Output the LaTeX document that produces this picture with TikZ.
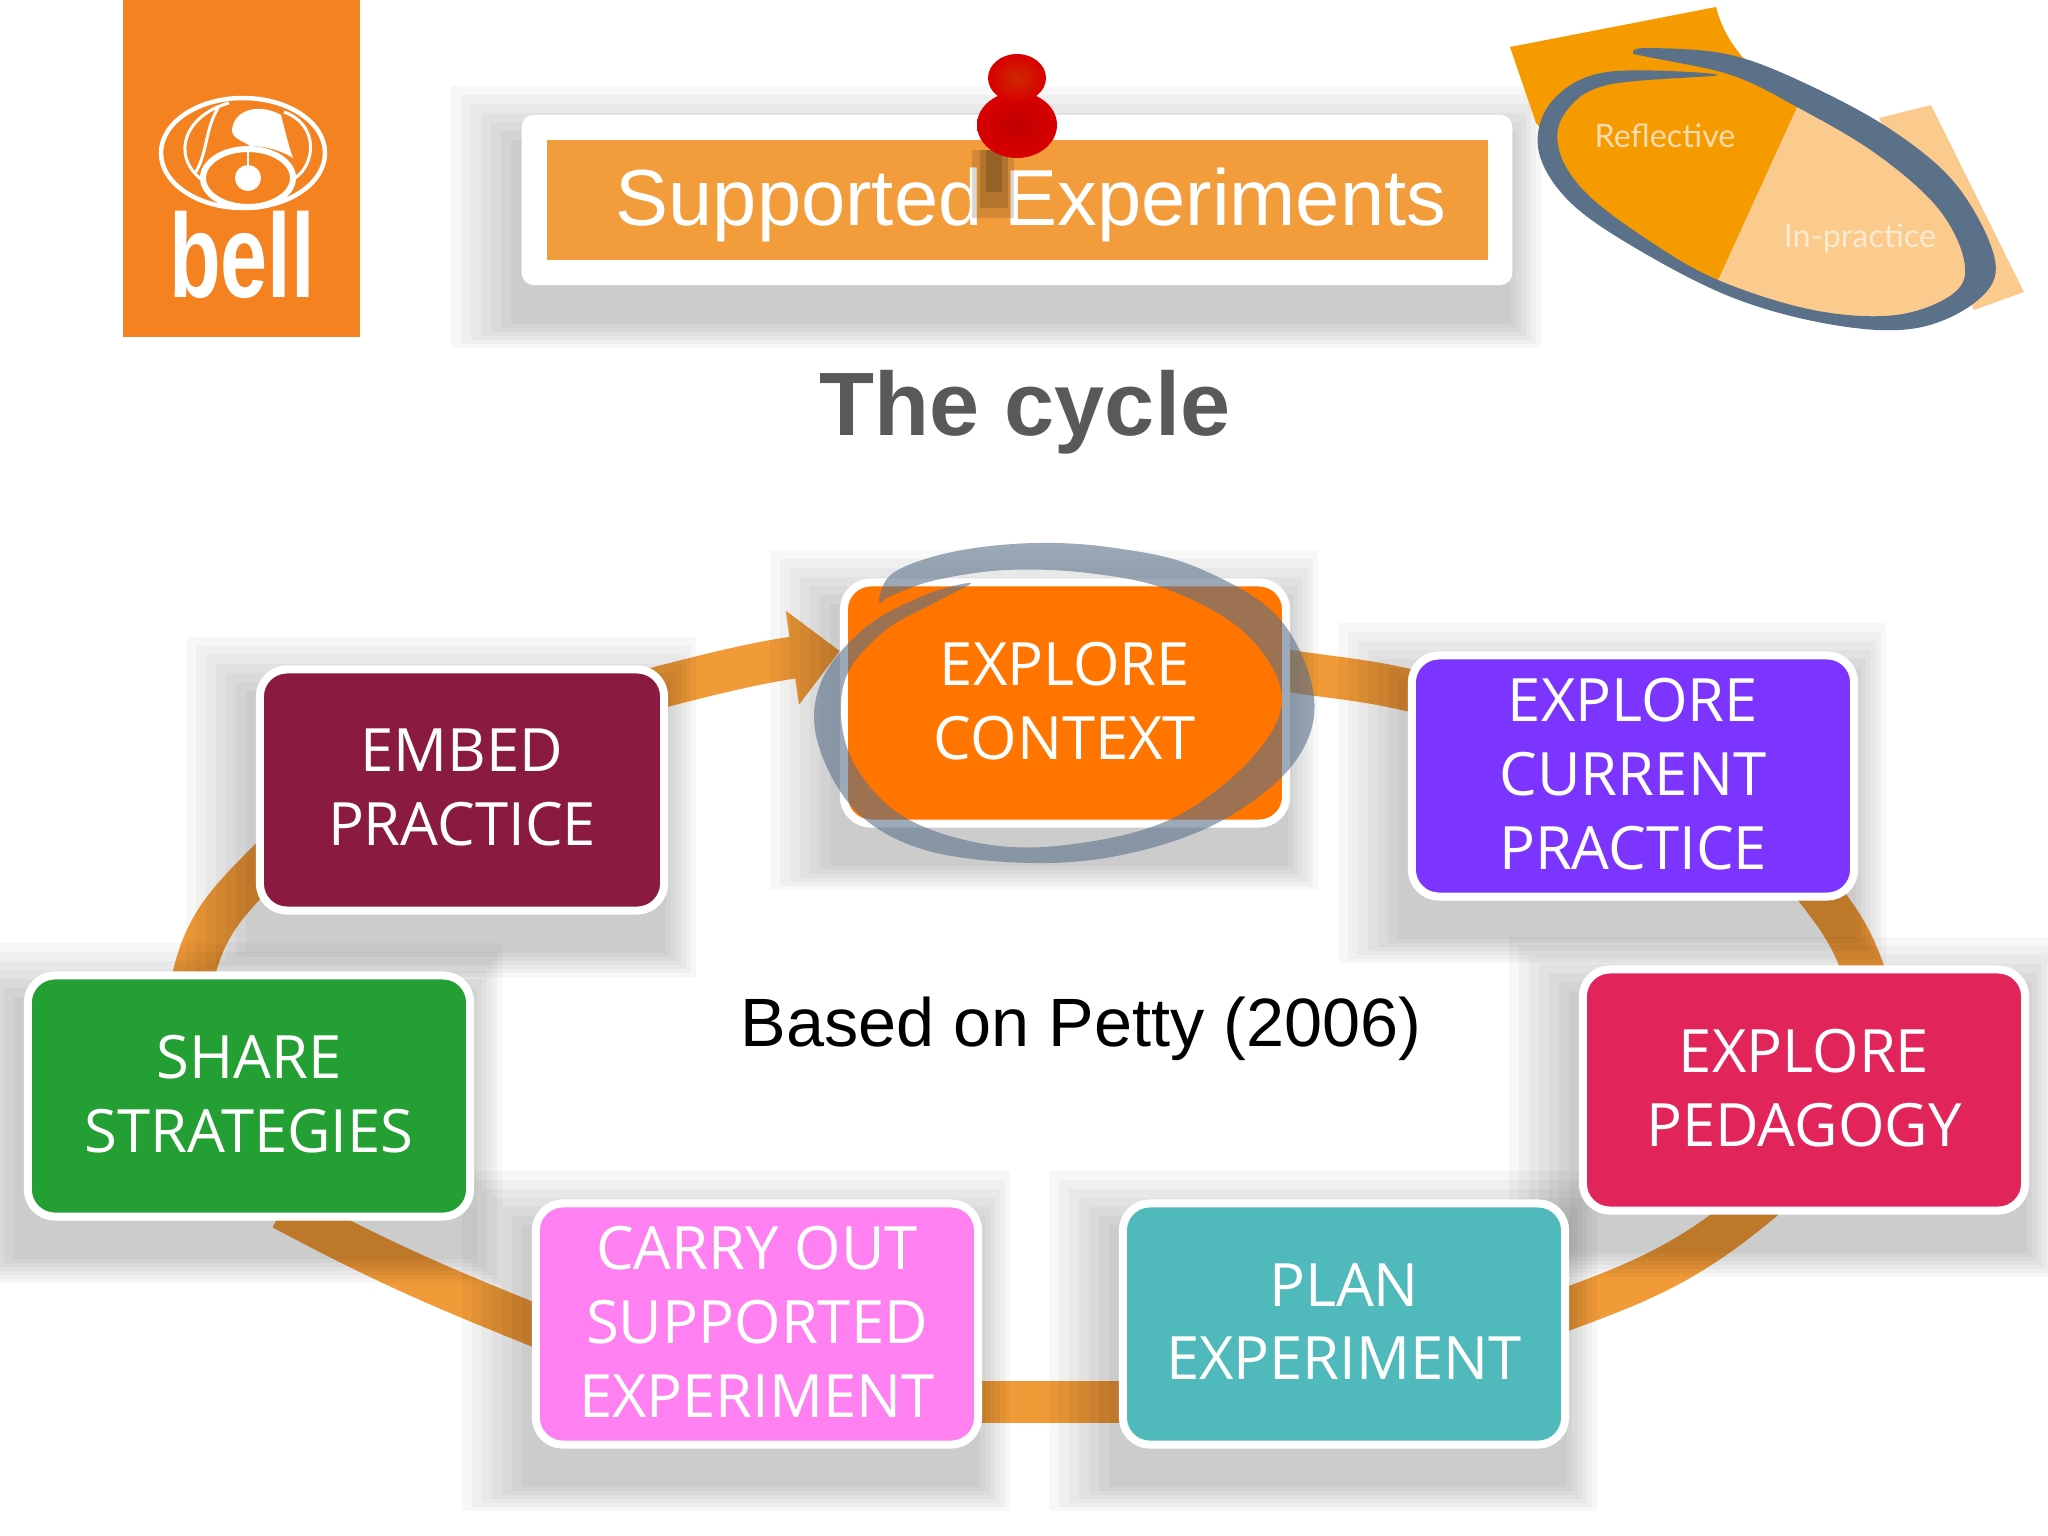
\documentclass[tikz,border=0pt]{standalone}
\usepackage{fontspec}
\setmainfont{Liberation Sans}
\newfontfamily\boxfont{Open Sans}
\newfontfamily\sheetfont{Lato}
\usetikzlibrary{arrows.meta,calc}
\definecolor{ringOrange}{HTML}{F19A38}
\definecolor{logoOrange}{HTML}{F58220}
\definecolor{bannerOrange}{HTML}{F39C3C}
\definecolor{sheetDark}{HTML}{F59B00}
\definecolor{sheetLight}{HTML}{FBCB8D}
\definecolor{ringSlate}{HTML}{5B7089}
\definecolor{boxContext}{HTML}{FF7500}
\definecolor{boxCurrent}{HTML}{7B35FF}
\definecolor{boxPedagogy}{HTML}{E1245A}
\definecolor{boxPlan}{HTML}{4FB9BC}
\definecolor{boxCarry}{HTML}{FF80F0}
\definecolor{boxShare}{HTML}{249F33}
\definecolor{boxEmbed}{HTML}{8A1A40}
\pgfdeclarelayer{ringlayer}
\pgfdeclarelayer{shadowlayer}
\pgfsetlayers{ringlayer,shadowlayer,main}
\tikzset{
  cycleAll/.style={draw=white, line width=.08cm, rounded corners=.27cm, inner sep=0pt,
    minimum width=4.42cm, minimum height=2.41cm, align=center, text=white, text depth=.05cm,
    font=\boxfont\fontsize{17}{21}\selectfont},
  cycleLine/.style={draw=ringOrange, line width=.42cm, shorten <=-.25cm, shorten >=-.25cm},
  ringPart/.style={fill=ringSlate, draw=none}
}
\newcommand{\softshadow}[1]{
  \begin{pgfonlayer}{shadowlayer}
    \foreach \n [evaluate=\n as \gl using 70-10*\n, evaluate=\n as \gr using 28-5*\n,
                 evaluate=\n as \gt using 28-9*\n, evaluate=\n as \gb using 62-4*\n] in {0,...,6}
      {\fill[black, opacity=.03] ($(#1.south west)+(-\gl,\gb)$) rectangle ($(#1.north east)+(\gr,-\gt)$);}
  \end{pgfonlayer}
}

\begin{document}
\begin{tikzpicture}[x=.01cm,y=-.01cm]
  \useasboundingbox (0,0) rectangle (2048,1536);

  % logo
  \node[fill=logoOrange, minimum width=2.37cm, minimum height=3.37cm, inner sep=0pt] (logo) at (241.5,168.5) {};
  \draw[white, line width=.045cm] (243,153) ellipse [x radius=82, y radius=55];
  \draw[white, line width=.03cm] (229,103) .. controls (185,115) and (170,155) .. (202,180);
  \draw[white, line width=.03cm] (218,108) .. controls (205,130) and (208,150) .. (196,172);
  \draw[white, line width=.03cm] (284,112) .. controls (320,125) and (315,165) .. (295,178);
  \draw[white, line width=.06cm] (248,178) ellipse [x radius=45, y radius=29];
  \fill[white] (248,178) ellipse [x radius=13, y radius=13];
  \draw[white, line width=.02cm] (248,150) -- (248,170);
  \fill[white] (233,125) .. controls (238,108) and (262,104) .. (281,115) .. controls (286,135) and (290,150) .. (293,158)
    .. controls (280,150) and (265,146) .. (250,146) .. controls (242,140) and (228,138) .. (233,125);
  \node[anchor=base, text=white, font=\bfseries\fontsize{33.9}{34}\selectfont, xscale=.71] (bell) at (242,297) {bell};

  % banner
  \node[fill=white, rounded corners=.12cm, minimum width=9.9cm, minimum height=1.7cm, inner sep=0pt] (banner) at (1017,200) {};
  \node[fill=bannerOrange, minimum width=9.41cm, minimum height=1.2cm, inner sep=0pt] (bannerFill) at (1017.5,200) {};
  \node[anchor=base, text=white, font=\fontsize{22.6}{24}\selectfont] (bannerText) at (1031,225) {Supported Experiments};
  \softshadow{banner}

  % pin
  \foreach \px/\qx/\qy/\op in {972/1014/218/.2, 980/1008/208/.25, 986/1002/192/.3}
    {\fill[black!55!brown, opacity=\op] (\px,150) rectangle (\qx,\qy);}
  \shade[inner color=red!75!black, outer color=red!85!black] (1017,125) ellipse [x radius=40, y radius=33];
  \shade[inner color=red!60!orange!80!black, outer color=red!85!black] (1017,78) ellipse [x radius=29, y radius=24];

  % sheets
  \fill[sheetLight] (1879,118) -- (1931,105) -- (2024,292) -- (1974,310) -- cycle;
  \fill[sheetDark] (1510,47) -- (1716,7) .. controls (1722,30) and (1732,45) .. (1745,60) -- (1780,120) -- (1560,150) -- (1536,123) -- cycle;
  \fill[sheetLight] plot[smooth cycle, tension=.6] coordinates {(1650,60) (1731,65) (1813,97) (1896,143) (1958,197) (1985,260) (1970,300) (1917,320)
    (1834,318) (1731,290) (1627,235) (1565,190) (1545,147) (1560,105) (1607,78)};
  \begin{scope}
    \clip plot[smooth cycle, tension=.6] coordinates {(1650,60) (1731,65) (1813,97) (1896,143) (1958,197) (1985,260) (1970,300) (1917,320)
      (1834,318) (1731,290) (1627,235) (1565,190) (1545,147) (1560,105) (1607,78)};
    \fill[sheetDark] (1500,0) -- (1830,10) -- (1797,107) -- (1718,280) -- (1680,400) -- (1500,400) -- cycle;
  \end{scope}
  \fill[ringPart] plot[smooth cycle, tension=.6] coordinates {(1633,53) (1648,48) (1731,55) (1813,87) (1896,133) (1958,187) (1995,260) (1978,300) (1917,328)
    (1834,325) (1731,297) (1627,243) (1565,197) (1538,147) (1553,100) (1607,72) (1718,75)
    (1607,85) (1565,113) (1559,150) (1586,193) (1648,240) (1718,280) (1813,310) (1896,315) (1954,293) (1964,260) (1937,207) (1875,153) (1797,107) (1731,75) (1648,57)};
  \node[text=sheetLight!70!white, font=\sheetfont\fontsize{9.2}{10}\selectfont] (reflective) at (1665,136) {Reflective};
  \node[text=sheetLight!40!white, font=\sheetfont\fontsize{9.2}{10}\selectfont] (inpractice) at (1860,238) {In-practice};

  % texts
  \node[anchor=base, text=black!65, font=\bfseries\fontsize{25.6}{27}\selectfont] (title) at (1025,435) {The cycle};
  \node[anchor=base, text=black, font=\fontsize{19.45}{21}\selectfont] (source) at (1081,1046) {Based on Petty (2006)};

  % boxes
  \node[cycleAll, fill=boxContext] (context) at (1065,703) {EXPLORE\\CONTEXT};
  \node[cycleAll, fill=boxCurrent] (current) at (1633,776) {EXPLORE\\CURRENT\\PRACTICE};
  \node[cycleAll, fill=boxPedagogy] (pedagogy) at (1804,1090) {EXPLORE\\PEDAGOGY};
  \node[cycleAll, fill=boxPlan] (plan) at (1344,1324) {PLAN\\EXPERIMENT};
  \node[cycleAll, fill=boxCarry] (carry) at (757,1324) {CARRY OUT\\SUPPORTED\\EXPERIMENT};
  \node[cycleAll, fill=boxShare] (share) at (249,1096) {SHARE\\STRATEGIES};
  \node[cycleAll, fill=boxEmbed, minimum width=4.04cm] (embed) at (462,790) {EMBED\\PRACTICE};

  \foreach \boxname in {context,current,pedagogy,plan,carry,share,embed}
    {\softshadow{\boxname}}

  \begin{pgfonlayer}{ringlayer}
    \draw[cycleLine, shorten >=0pt, -{Triangle[length=.48cm,width=.92cm]}] (embed.27) to[out=15,in=188] (context.167);
    \draw[cycleLine] (context.8) to[out=-10,in=165] (current.159);
    \draw[cycleLine] (current.-33.5) to[out=-52,in=108] (pedagogy.65);
    \draw[cycleLine] (pedagogy.245) to[out=-140,in=20] (plan.4);
    \draw[cycleLine] (plan.199) to[out=180,in=0] (carry.341);
    \draw[cycleLine] (carry.180) to[out=158,in=-28] (share.294);
    \draw[cycleLine] (share.114) to[out=80,in=225] (embed.202);
  \end{pgfonlayer}

  % highlight round the first box
  \fill[ringSlate, opacity=.6] plot[smooth cycle, tension=.6] coordinates {(879,602) (893,573) (952,552) (1034,543) (1115,548) (1196,567) (1278,617) (1314,697) (1294,763)
    (1223,820) (1131,853) (1034,863) (925,850) (855,810) (817,740) (822,680) (866,627) (925,595) (971,583)
    (936,602) (882,633) (844,683) (849,753) (898,813) (979,843) (1066,845) (1169,820) (1250,760) (1282,697) (1245,633) (1169,590) (1088,573) (1006,570) (936,580) (893,595)};
\end{tikzpicture}
\end{document}
